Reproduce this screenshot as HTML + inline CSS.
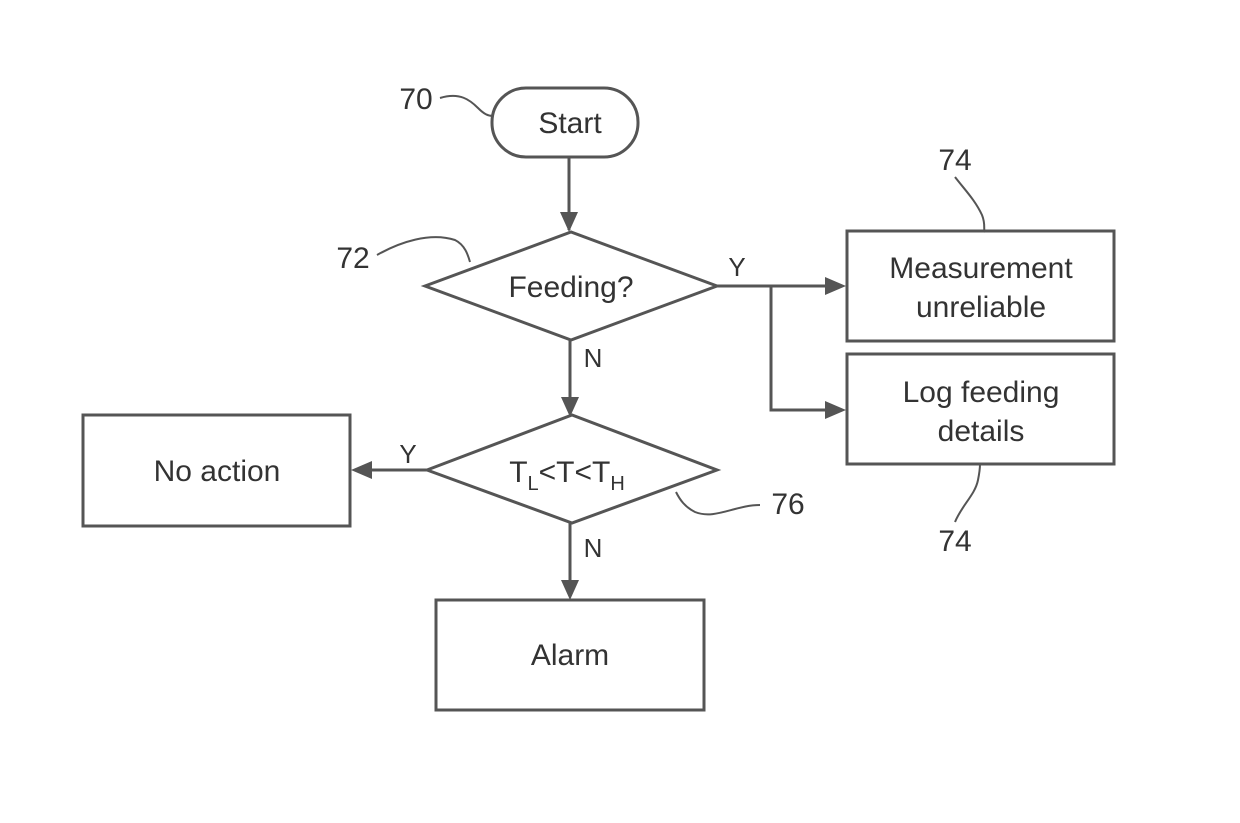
<!DOCTYPE html>
<html><head><meta charset="utf-8"><style>
html,body{margin:0;padding:0;background:#fff;}
svg text{font-family:"Liberation Sans","DejaVu Sans",sans-serif;fill:#333;}
</style></head><body>
<svg width="1240" height="818" viewBox="0 0 1240 818" xmlns="http://www.w3.org/2000/svg">
<defs>
<marker id="a" markerWidth="10" markerHeight="10" refX="9" refY="5" orient="auto" markerUnits="userSpaceOnUse" viewBox="0 0 10 10">
<path d="M0,0 L10,5 L0,10 z" fill="#555"/>
</marker>
</defs>
<g fill="none" stroke="#555" stroke-width="3">
<rect x="492" y="88" width="146" height="69" rx="34"/>
<polygon points="425,286 571,232 717,286 571,340"/>
<polygon points="427,470 572,415 717,470 572,523"/>
<rect x="847" y="231" width="267" height="110"/>
<rect x="847" y="354" width="267" height="110"/>
<rect x="83" y="415" width="267" height="111"/>
<rect x="436" y="600" width="268" height="110"/>
</g>
<g stroke="#555" stroke-width="3" fill="none">
<line x1="569" y1="157" x2="569" y2="230" marker-end="url(#a)" style="marker-end:none"/>
<line x1="717" y1="286" x2="835" y2="286"/>
<polyline points="771,286 771,410 835,410"/>
<line x1="570" y1="340" x2="570" y2="405"/>
<line x1="427" y1="470" x2="362" y2="470"/>
<line x1="570" y1="523" x2="570" y2="588"/>
</g>
<g fill="#555">
<polygon points="560,212 578,212 569,232"/>
<polygon points="825,277 825,295 846,286"/>
<polygon points="825,401 825,419 846,410"/>
<polygon points="561,397 579,397 570,417"/>
<polygon points="372,461 372,479 351,470"/>
<polygon points="561,580 579,580 570,600"/>
</g>
<g stroke="#555" stroke-width="2" fill="none">
<path d="M440,98 C460,92 470,100 478,108 C484,114 488,116 493,116"/>
<path d="M377,255 C400,242 430,232 455,240 C465,245 468,255 470,262"/>
<path d="M955,177 C965,190 975,200 982,215 C986,225 983,230 985,232"/>
<path d="M955,522 C962,505 975,495 978,480 C980,470 980,466 980,464"/>
<path d="M760,505 C735,505 715,520 695,512 C685,507 680,500 676,492"/>
</g>
<g font-size="30" text-anchor="middle">
<text x="570" y="133">Start</text>
<text x="571" y="297">Feeding?</text>
<text x="981" y="278">Measurement</text>
<text x="981" y="317">unreliable</text>
<text x="981" y="402">Log feeding</text>
<text x="981" y="441">details</text>
<text x="217" y="481">No action</text>
<text x="570" y="665">Alarm</text>
<text x="567" y="482">T<tspan font-size="20" dy="8">L</tspan><tspan dy="-8">&lt;T&lt;T</tspan><tspan font-size="20" dy="8">H</tspan></text>
<text x="416" y="109">70</text>
<text x="353" y="268">72</text>
<text x="955" y="170">74</text>
<text x="955" y="551">74</text>
<text x="788" y="514">76</text>
<text x="737" y="276" font-size="26">Y</text>
<text x="593" y="367" font-size="26">N</text>
<text x="408" y="463" font-size="26">Y</text>
<text x="593" y="557" font-size="26">N</text>
</g>
</svg>
</body></html>
